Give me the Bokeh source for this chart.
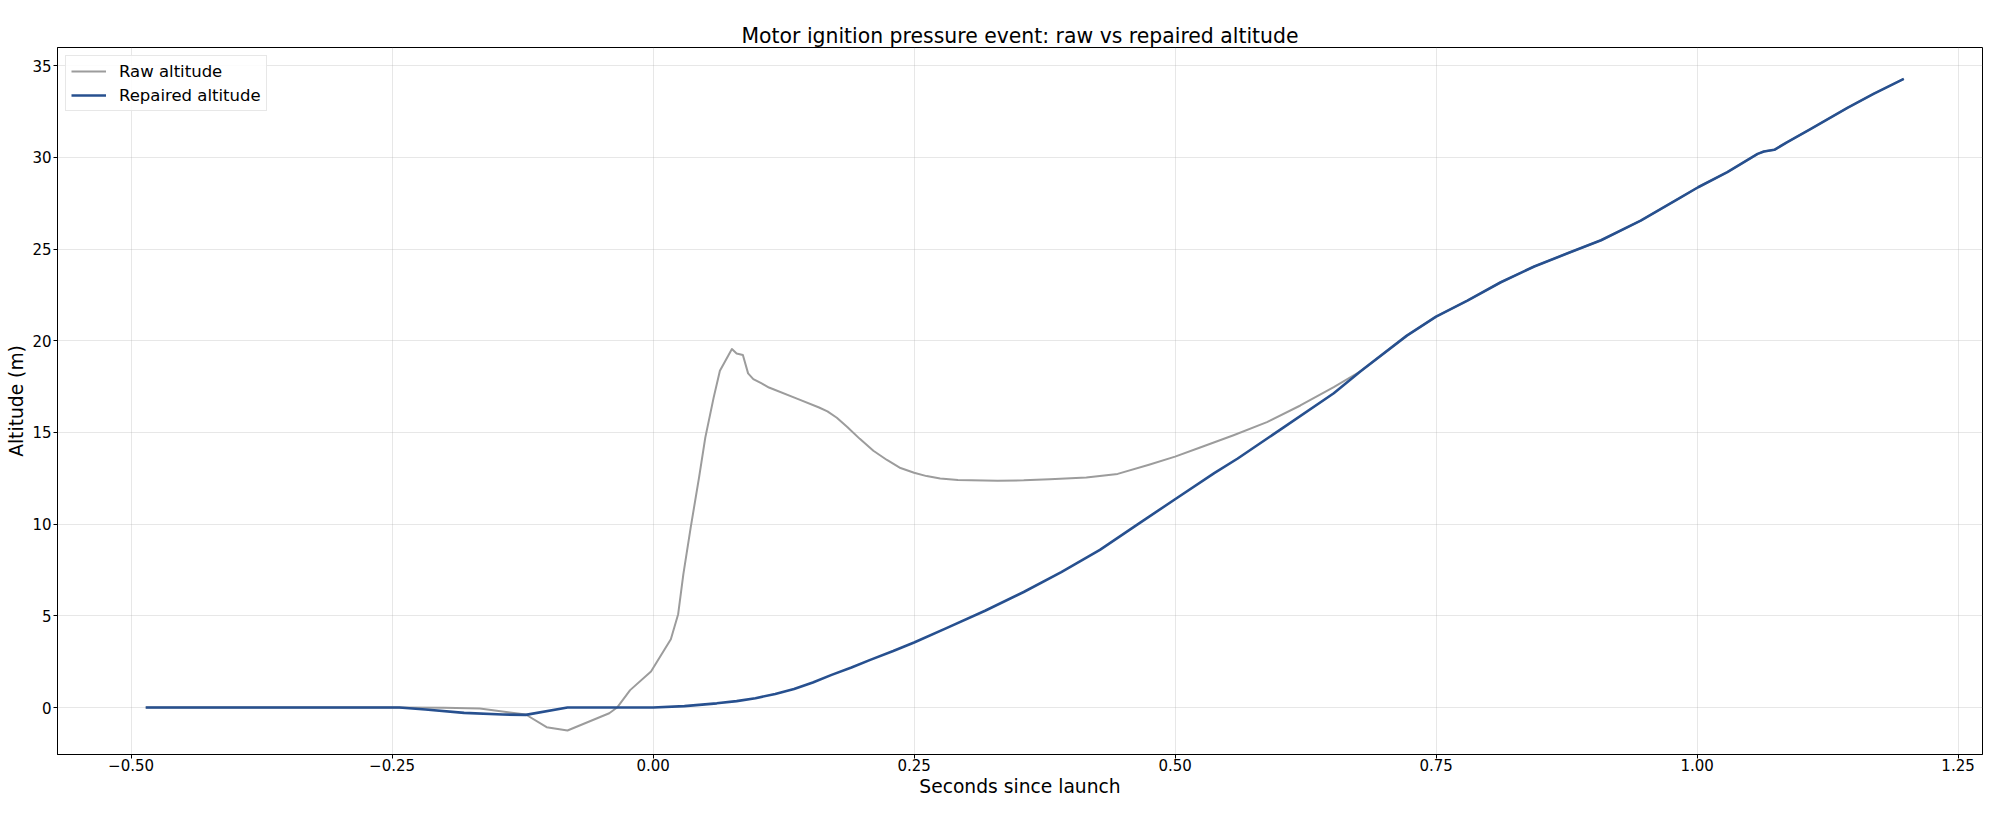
from bokeh.plotting import figure
from bokeh.models import Range1d, FixedTicker, Legend, LegendItem
from bokeh.embed import file_html
from bokeh.resources import INLINE

# ---- data ----
rep_t = [-0.486, -0.243, -0.218, -0.181, -0.144, -0.122, -0.082, 0.0,
         0.03, 0.061, 0.08, 0.098, 0.117, 0.135, 0.153, 0.171, 0.19, 0.208,
         0.23, 0.25, 0.281, 0.318, 0.355,
         0.391, 0.428, 0.4645, 0.5, 0.5375, 0.56, 0.604, 0.652, 0.678,
         0.722, 0.75, 0.78, 0.812, 0.844, 0.876, 0.908, 0.946, 0.984,
         1.001, 1.029, 1.058, 1.064, 1.074, 1.086, 1.109, 1.144, 1.169, 1.198]
rep_alt = [0.0, 0.0, -0.11, -0.29, -0.38, -0.40, 0.0, 0.0,
           0.08, 0.23, 0.35, 0.51, 0.74, 1.01, 1.37, 1.78, 2.18, 2.60,
           3.08, 3.55, 4.33, 5.28, 6.30,
           7.38, 8.60, 10.0, 11.36, 12.78, 13.58, 15.28, 17.14, 18.35,
           20.28, 21.32, 22.19, 23.19, 24.05, 24.77, 25.48, 26.55, 27.80,
           28.37, 29.19, 30.19, 30.32, 30.41, 30.82, 31.55, 32.70, 33.46, 34.28]

raw_t_head = [-0.486, -0.25, -0.2, -0.166, -0.122, -0.102, -0.082, -0.042,
              -0.0345, -0.022, -0.002, 0.017, 0.024, 0.029, 0.036, 0.044,
              0.050, 0.058, 0.064, 0.0755, 0.080, 0.086, 0.091, 0.096, 0.104,
              0.111, 0.139, 0.159, 0.167, 0.176, 0.186, 0.198, 0.211, 0.224,
              0.237, 0.25, 0.262, 0.275, 0.292, 0.33,
              0.355, 0.38, 0.415, 0.445, 0.475, 0.50, 0.524, 0.556, 0.588,
              0.620, 0.652]
raw_alt_head = [0.0, 0.0, -0.01, -0.05, -0.38, -1.07, -1.25, -0.31,
                0.0, 0.95, 1.97, 3.72, 5.09, 7.27, 9.81, 12.54,
                14.72, 16.90, 18.36, 19.55, 19.31, 19.22, 18.22, 17.91, 17.67,
                17.45, 16.82, 16.36, 16.15, 15.8, 15.3, 14.65, 14.00, 13.5,
                13.06, 12.8, 12.62, 12.49, 12.41, 12.37,
                12.39, 12.45, 12.55, 12.74, 13.24, 13.68, 14.18, 14.85, 15.56,
                16.47, 17.47]
merge_t = 0.66  # after this the raw trace coincides with the repaired one
raw_t = raw_t_head + [t for t in rep_t if t > merge_t]
raw_alt = raw_alt_head + [a for t, a in zip(rep_t, rep_alt) if t > merge_t]

x_ticks = [-0.5, -0.25, 0.0, 0.25, 0.5, 0.75, 1.0, 1.25]
x_tick_labels = ["\u22120.50", "\u22120.25", "0.00", "0.25", "0.50", "0.75", "1.00", "1.25"]
y_ticks = [0, 5, 10, 15, 20, 25, 30, 35]

title_text = "Motor ignition pressure event: raw vs repaired altitude"
x_label = "Seconds since launch"
y_label = "Altitude (m)"
series_names = ["Raw altitude", "Repaired altitude"]

FONT = "DejaVu Sans"

p = figure(width=1984, height=799, output_backend="svg", toolbar_location=None,
           x_range=Range1d(-0.5705, 1.2734), y_range=Range1d(-2.56, 35.99),
           min_border_left=57, min_border_right=2, min_border_top=47,
           min_border_bottom=44)

p.title.text = title_text
p.title.text_font = FONT
p.title.text_font_size = "20.4px"
p.title.text_font_style = "normal"
p.title.align = "center"
p.title.text_color = "black"
p.title.standoff = 0

p.background_fill_color = "white"
p.border_fill_color = "white"
p.outline_line_color = "black"
p.outline_line_width = 1
p.outline_line_alpha = 1.0

for ax in (p.xaxis[0], p.yaxis[0]):
    ax.axis_line_color = "black"
    ax.major_tick_line_color = "black"
    ax.major_tick_out = 4
    ax.major_tick_in = 0
    ax.minor_tick_line_color = None
    ax.major_label_text_font = FONT
    ax.major_label_text_font_size = "15px"
    ax.major_label_text_color = "black"
    ax.axis_label_text_font = FONT
    ax.axis_label_text_font_size = "18.7px"
    ax.axis_label_text_font_style = "normal"
    ax.axis_label_text_color = "black"

p.xaxis[0].ticker = FixedTicker(ticks=x_ticks)
p.xaxis[0].major_label_overrides = {t: s for t, s in zip(x_ticks, x_tick_labels)}
p.xaxis[0].axis_label = x_label
p.xaxis[0].major_label_standoff = 0
p.xaxis[0].axis_label_standoff = 2
p.yaxis[0].ticker = FixedTicker(ticks=y_ticks)
p.yaxis[0].axis_label = y_label
p.yaxis[0].major_label_standoff = 2
p.yaxis[0].axis_label_standoff = 2

p.xgrid[0].ticker = FixedTicker(ticks=x_ticks)
p.ygrid[0].ticker = FixedTicker(ticks=y_ticks)
for g in (p.xgrid[0], p.ygrid[0]):
    g.grid_line_color = "#b0b0b0"
    g.grid_line_alpha = 0.3
    g.grid_line_width = 1

r_raw = p.line(raw_t, raw_alt, line_color="#9c9c9c", line_width=2, line_join="round")
r_rep = p.line(rep_t, rep_alt, line_color="#27508f", line_width=2.6, line_join="round")

legend = Legend(items=[LegendItem(label=series_names[0], renderers=[r_raw]),
                       LegendItem(label=series_names[1], renderers=[r_rep])],
                location="top_left")
legend.label_text_font = FONT
legend.label_text_font_size = "16.5px"
legend.label_text_color = "black"
legend.glyph_width = 35
legend.glyph_height = 20
legend.label_height = 20
legend.label_standoff = 13
legend.spacing = 4
legend.padding = 5
legend.margin = 8
legend.border_line_color = "#d0d0d0"
legend.border_line_width = 1
legend.background_fill_alpha = 0.85
p.add_layout(legend)

open("out.html", "w").write(file_html(p, INLINE))
